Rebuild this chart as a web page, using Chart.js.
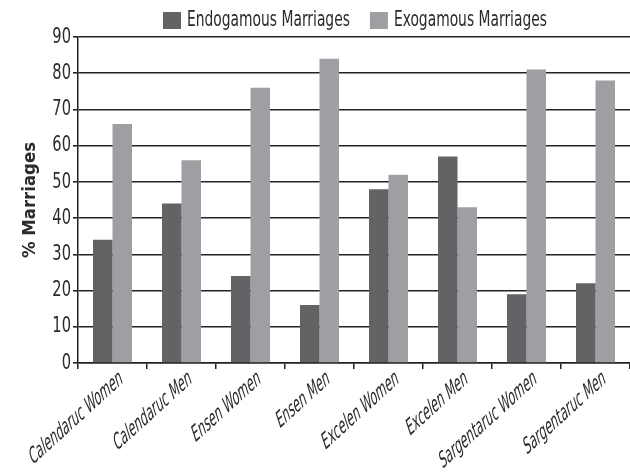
<!DOCTYPE html>
<html>
<head>
<meta charset="utf-8">
<script src="https://cdn.jsdelivr.net/npm/chart.js@4/dist/chart.umd.min.js"></script>
<style>
  html, body { margin: 0; padding: 0; background: #fff; }
  #wrap { width: 630px; height: 474px; }
</style>
</head>
<body>
<div id="wrap"><canvas id="chart"></canvas></div>
<script>
const categories = ["Calendaruc Women", "Calendaruc Men", "Ensen Women", "Ensen Men",
  "Excelen Women", "Excelen Men", "Sargentaruc Women", "Sargentaruc Men"];
const endogamous = [34, 44, 24, 16, 48, 57, 19, 22];
const exogamous = [66, 56, 76, 84, 52, 43, 81, 78];
const yTitle = "% Marriages";

const FAMILY = "'DejaVu Sans Condensed', 'DejaVu Sans', sans-serif";
const TEXT = "#2b2b2b";
const LINE = "#232323";

// the original uses a very narrow face, so text is squeezed horizontally
function narrowText(ctx, text, x, y, opts) {
  ctx.save();
  ctx.font = (opts.bold ? "bold " : "") + opts.size + "px " + FAMILY;
  ctx.fillStyle = TEXT;
  ctx.textAlign = opts.align || "left";
  ctx.textBaseline = "middle";
  ctx.translate(x, y);
  if (opts.rotate) ctx.rotate(opts.rotate);
  if (opts.skew) ctx.transform(1, 0, opts.skew, 1, 0, 0);
  ctx.scale(opts.sx, 1);
  ctx.fillText(text, 0, 0);
  const w = ctx.measureText(text).width * opts.sx;
  ctx.restore();
  return w;
}

const drawText = {
  id: "drawText",
  afterDraw(chart) {
    const { ctx, chartArea, scales } = chart;
    const y = scales.y, x = scales.x;

    // y tick labels
    y.ticks.forEach(t => {
      narrowText(ctx, String(t.value), chartArea.left - 7, y.getPixelForValue(t.value),
        { size: 22, sx: 0.74, align: "right" });
    });

    // y axis title, fitted to its length in the original
    ctx.save();
    ctx.font = "bold 18px " + FAMILY;
    const tw = ctx.measureText(yTitle).width;
    ctx.restore();
    narrowText(ctx, yTitle, 30, (chartArea.top + chartArea.bottom) / 2,
      { size: 18, bold: true, sx: 116 / tw, align: "center", rotate: -Math.PI / 2 });

    // slanted category labels
    categories.forEach((c, i) => {
      narrowText(ctx, c, x.getPixelForValue(i) + 9, chartArea.bottom + 14,
        { size: 20, sx: 0.7, align: "right", rotate: -0.74, skew: -0.45 });
    });

    // legend
    let lx = 163;
    chart.data.datasets.forEach(ds => {
      ctx.fillStyle = ds.backgroundColor;
      ctx.fillRect(lx, 12, 18, 17);
      lx += 24;
      lx += narrowText(ctx, ds.label, lx, 20.5, { size: 22, sx: 0.7 });
      lx += 20;
    });
  }
};

new Chart(document.getElementById("chart"), {
  type: "bar",
  data: {
    labels: categories,
    datasets: [
      { label: "Endogamous Marriages", data: endogamous, backgroundColor: "#636365" },
      { label: "Exogamous Marriages", data: exogamous, backgroundColor: "#9e9fa2" }
    ]
  },
  options: {
    responsive: true,
    maintainAspectRatio: false,
    animation: false,
    layout: { padding: { top: 37, right: 0, left: 0, bottom: 0 } },
    datasets: { bar: { categoryPercentage: 0.565, barPercentage: 1 } },
    plugins: {
      tooltip: { enabled: false },
      legend: { display: false }
    },
    scales: {
      x: {
        afterFit(s) { s.height = 111; },
        grid: { offset: true, drawOnChartArea: false, tickLength: 6, color: LINE, lineWidth: 1.5 },
        border: { color: LINE, width: 1.5 },
        ticks: { display: false }
      },
      y: {
        min: 0, max: 90,
        afterFit(s) { s.width = 78; },
        ticks: { stepSize: 10, display: false },
        grid: { color: LINE, lineWidth: 1.6, tickLength: 5 },
        border: { color: LINE, width: 1.5 }
      }
    }
  },
  plugins: [drawText]
});
</script>
</body>
</html>
